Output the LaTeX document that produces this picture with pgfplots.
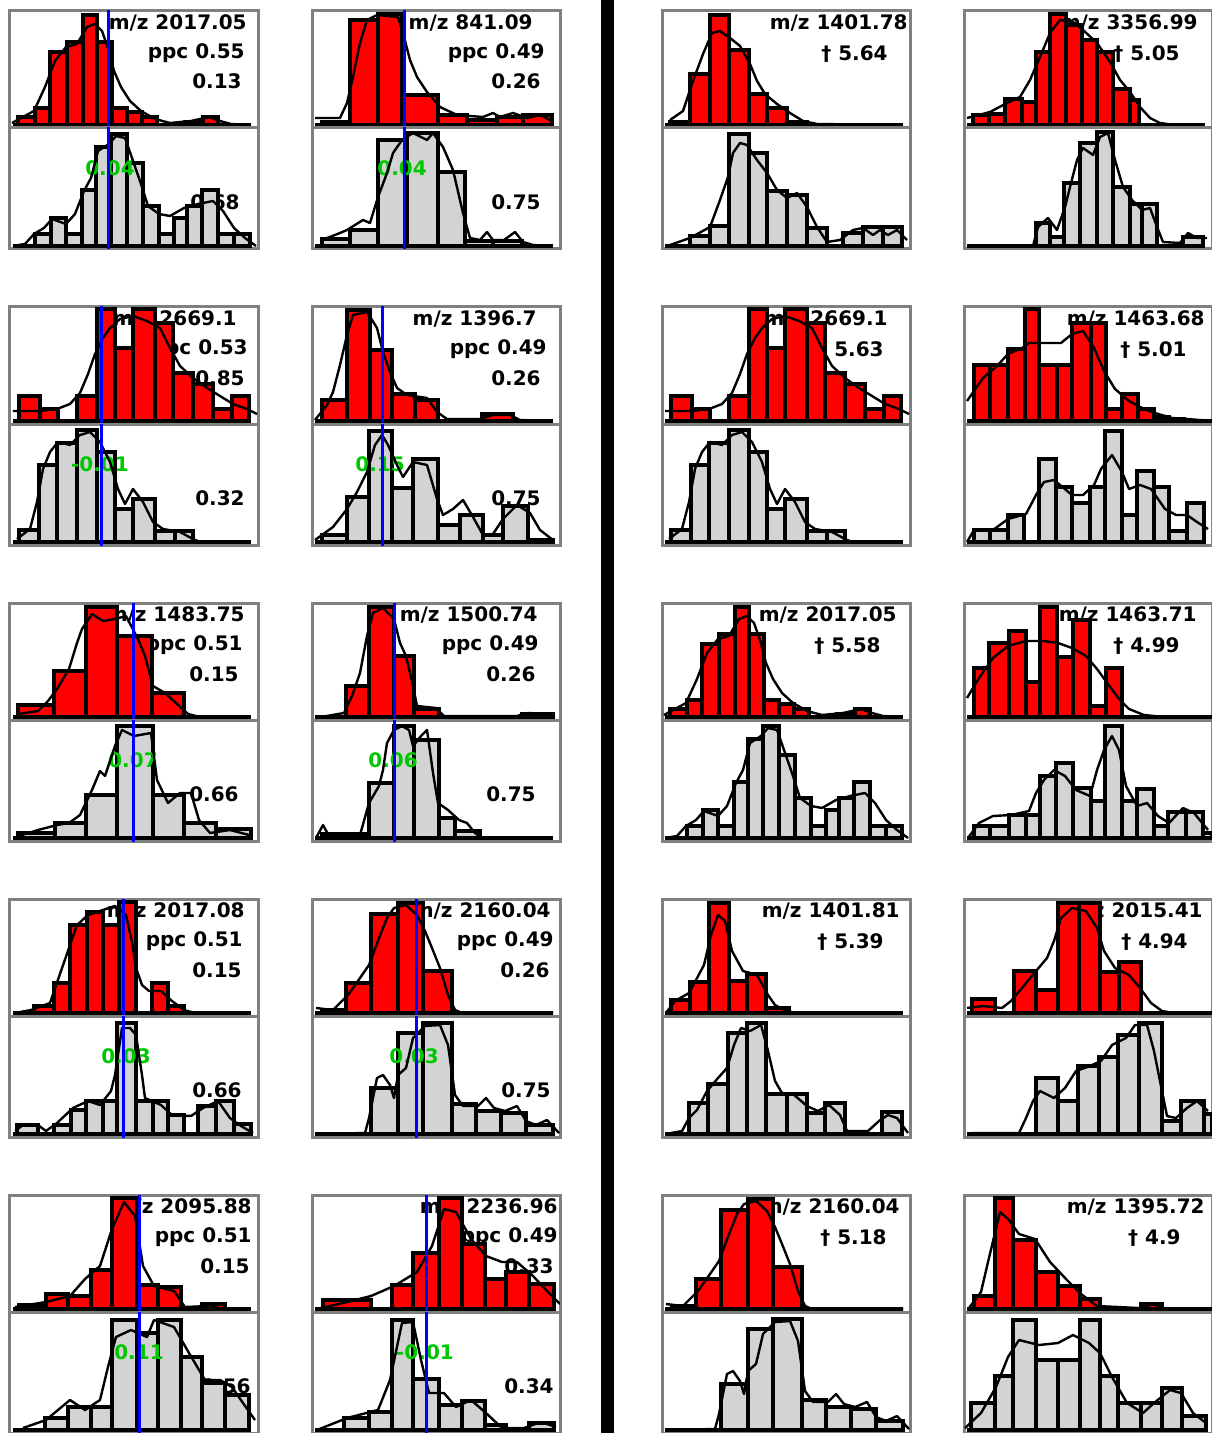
\documentclass[border=0pt]{standalone}
\usepackage{fontspec}
\setmainfont{DejaVu Sans}
\usepackage{pgfplots}
\pgfplotsset{compat=1.18}
\definecolor{fr}{RGB}{128,128,128}
\definecolor{rd}{RGB}{255,0,0}
\definecolor{gy}{RGB}{211,211,211}
\definecolor{bl}{RGB}{0,0,255}
\definecolor{gr}{RGB}{0,200,0}
\newcommand\lab{\bfseries\fontsize{10}{12}\selectfont}
\pgfplotsset{
 sub/.style={scale only axis, width=124pt, xmin=0, xmax=248, ticks=none, anchor=north west,
   axis line style={fr, line width=1.5pt}},
 tp/.style={sub, height=58.5pt, ymin=-3, ymax=114},
 bt/.style={sub, height=60.5pt, ymin=-3, ymax=118},
}
\newcommand\TT[3]{\begin{axis}[tp, at={(#1*0.5pt,-#2*0.5pt)}]#3\end{axis}}
\newcommand\BB[3]{\begin{axis}[bt, at={(#1*0.5pt,-#2*0.5pt-58.5pt)}]#3\end{axis}}
\newcommand\bars[2]{\addplot[ybar interval, fill=#1, draw=black, line width=1.6pt] coordinates {#2};}
\newcommand\crv[1]{\addplot[black, line width=1.2pt, line join=round] coordinates {#1};}
\newcommand\base{\addplot[black, line width=1.6pt] coordinates {(3,0) (241,0)};}
\newcommand\blue[1]{\addplot[bl, line width=1.5pt] coordinates {(#1,-10) (#1,130)};}
\newcommand\rtxt[3]{\addplot[draw=none] coordinates {(0,#2) (#1,#2)} node[pos=1, anchor=base east, inner sep=0pt, font=\lab] {#3};}
\newcommand\gtxt[3]{\addplot[draw=none] coordinates {(0,#2) (#1,#2)} node[pos=1, anchor=base, inner sep=0pt, font=\lab, text=gr] {#3};}
\begin{document}
\begin{tikzpicture}
% ---------------- Row 1 ----------------
% R1C1
\TT{10}{11}{\rtxt{237}{95.5}{m/z 2017.05}\rtxt{235}{66.5}{ppc 0.55}\rtxt{232}{36}{0.13}
\bars{rd}{(8,8) (25,17) (40,73) (57,83) (73,110) (87,83) (102,17) (117,13) (132,8) (147,0) (175,3) (193,8) (208,0) (240,0)}
\crv{(2,2) (24,14) (35,38) (45,64) (56,78) (67,81) (77,98) (85,101) (92,94) (99,74) (104,54) (111,38) (120,24) (131,14) (145,6) (160,2) (181,4) (199,8) (210,4) (221,1) (240,0)}
\base\blue{98}}
\BB{10}{11}{\rtxt{230}{36.5}{0.68}
\bars{gy}{(25,12) (41,28) (56,12) (72,56) (86,99) (101,112) (117,83) (133,40) (149,12) (164,28) (177,40) (192,56) (208,12) (224,12) (240,0)}
\gtxt{100}{70.5}{0.04}
\crv{(3,0) (15,2) (24,12) (34,18) (42,27) (56,22) (65,32) (74,55) (81,68) (88,95) (99,102) (106,110) (115,108) (122,88) (131,62) (138,40) (149,32) (160,30) (174,38) (188,42) (203,45) (213,35) (224,18) (235,8) (246,0)}
\base\blue{98}}
% R1C2
\TT{312}{11}{\rtxt{221}{95.5}{m/z 841.09}\rtxt{233}{66.5}{ppc 0.49}\rtxt{229}{36}{0.26}
\bars{rd}{(10,3) (38,105) (66,111) (90,30) (126,10) (155,5) (185,8) (211,10) (240,0)}
\crv{(3,7) (28,7) (35,22) (41,48) (48,82) (55,105) (65,110) (86,108) (91,92) (98,65) (105,48) (115,33) (128,18) (145,10) (171,8) (181,12) (188,8) (201,12) (215,7) (228,10) (238,5)}
\base\blue{92}}
\BB{312}{11}{\rtxt{229}{36.5}{0.75}
\bars{gy}{(10,7) (38,16) (66,106) (95,113) (126,74) (153,5) (181,5) (210,0) (240,0)}
\gtxt{90}{70.5}{0.04}
\crv{(10,6) (28,13) (35,16) (51,26) (58,23) (66,49) (75,73) (81,93) (90,106) (101,113) (115,106) (121,113) (131,99) (141,76) (151,33) (158,8) (168,6) (175,14) (181,6) (192,6) (203,14) (211,4) (221,1) (240,0)}
\base\blue{92}}
% R1C3
\TT{662}{11}{\rtxt{246}{95.5}{m/z 1401.78}\rtxt{226}{64.5}{† 5.64}
\bars{rd}{(8,3) (28,51) (48,110) (67,75) (87,31) (105,17) (125,3) (145,0) (240,0)}
\crv{(8,5) (21,14) (31,44) (41,71) (50,92) (58,94) (68,87) (78,79) (88,61) (95,44) (103,31) (115,21) (128,12) (141,4) (155,1) (240,0)}
\base}
\BB{662}{11}{
\bars{gy}{(28,10) (48,20) (67,112) (87,93) (105,55) (125,51) (145,18) (165,0) (181,13) (201,19) (221,19) (240,0)}
\crv{(8,1) (28,8) (48,19) (58,46) (66,69) (71,93) (78,103) (85,101) (95,86) (105,73) (115,56) (125,48) (135,53) (145,39) (155,19) (165,4) (178,6) (191,16) (201,18) (211,11) (218,16) (226,11) (235,16) (245,6)}
\base}
% R1C4
\TT{964}{11}{\rtxt{234}{95.5}{m/z 3356.99}\rtxt{216}{64.5}{† 5.05}
\bars{rd}{(9,10) (25,11) (41,26) (58,23) (72,73) (86,111) (102,100) (118,85) (133,73) (149,36) (166,25) (175,0) (240,0)}
\crv{(3,7) (26,13) (43,22) (56,28) (66,45) (76,68) (86,92) (96,105) (109,103) (119,95) (133,82) (146,63) (156,45) (166,33) (176,18) (186,7) (196,2) (210,0) (240,0)}
\base}
\BB{964}{11}{
\bars{gy}{(72,23) (86,9) (100,63) (116,103) (133,114) (149,59) (166,42) (178,42) (193,0) (219,9) (239,0)}
\crv{(3,0) (69,0) (74,19) (84,28) (93,16) (101,39) (106,59) (113,86) (119,98) (129,91) (136,109) (144,113) (151,86) (159,59) (168,46) (178,36) (186,38) (193,19) (199,4) (216,3) (224,13) (233,8) (243,8)}
\base}
% ---------------- Row 2 ----------------
% R2C1
\TT{10}{307}{\rtxt{227}{95.5}{m/z 2669.1}\rtxt{238}{66.5}{ppc 0.53}\rtxt{235}{36}{0.85}
\bars{rd}{(9,25) (30,12) (48,0) (67,25) (87,112) (105,73) (123,112) (145,98) (163,48) (183,37) (203,12) (222,25) (239,0)}
\crv{(3,10) (30,10) (47,12) (60,17) (70,28) (78,47) (85,67) (93,83) (100,93) (110,102) (123,105) (137,100) (150,93) (160,73) (170,55) (183,43) (197,33) (210,25) (223,17) (237,12) (247,7)}
\base\blue{91}}
\BB{10}{307}{\rtxt{235}{36.5}{0.32}
\bars{gy}{(9,12) (29,77) (47,99) (67,112) (87,90) (105,33) (123,43) (145,11) (165,11) (183,0) (240,0)}
\gtxt{90}{70.5}{-0.01}
\crv{(7,3) (20,13) (27,40) (33,73) (40,90) (48,100) (60,97) (70,107) (80,110) (90,100) (100,80) (108,53) (115,38) (123,53) (133,40) (143,20) (153,13) (170,10) (183,3) (190,0) (240,0)}
\base\blue{91}}
% R2C2
\TT{312}{307}{\rtxt{225}{95.5}{m/z 1396.7}\rtxt{235}{66.5}{ppc 0.49}\rtxt{229}{36}{0.26}
\bars{rd}{(10,21) (35,111) (58,71) (80,27) (103,21) (126,0) (170,7) (201,0) (240,0)}
\crv{(3,1) (15,16) (21,29) (28,56) (35,86) (41,106) (55,109) (65,93) (71,69) (78,49) (85,33) (95,26) (115,23) (125,9) (135,2) (168,2) (181,6) (198,6) (208,1) (240,0)}
\base\blue{70}}
\BB{312}{307}{\rtxt{229}{36.5}{0.75}
\bars{gy}{(10,7) (35,45) (57,111) (80,54) (101,83) (126,17) (148,27) (171,7) (191,36) (216,2) (241,0)}
\gtxt{68}{70.5}{0.15}
\crv{(3,2) (21,15) (35,33) (45,50) (55,70) (63,97) (70,107) (76,97) (85,77) (91,65) (101,80) (115,77) (125,43) (131,27) (141,33) (151,42) (161,25) (171,7) (181,8) (191,23) (205,37) (218,29) (228,12) (241,2)}
\base\blue{70}}
% R2C3
\TT{662}{307}{\rtxt{226}{95.5}{m/z 2669.1}\rtxt{222}{64.5}{† 5.63}
\bars{rd}{(9,25) (30,12) (48,0) (67,25) (87,112) (105,73) (123,112) (145,98) (163,48) (183,37) (203,12) (222,25) (239,0)}
\crv{(3,10) (30,10) (47,12) (60,17) (70,28) (78,47) (85,67) (93,83) (100,93) (110,102) (123,105) (137,100) (150,93) (160,73) (170,55) (183,43) (197,33) (210,25) (223,17) (237,12) (247,7)}
\base}
\BB{662}{307}{
\bars{gy}{(9,12) (29,77) (47,99) (67,112) (87,90) (105,33) (123,43) (145,11) (165,11) (183,0) (240,0)}
\crv{(7,3) (20,13) (27,40) (33,73) (40,90) (48,100) (60,97) (70,107) (80,110) (90,100) (100,80) (108,53) (115,38) (123,53) (133,40) (143,20) (153,13) (170,10) (183,3) (190,0) (240,0)}
\base}
% R2C4
\TT{964}{307}{\rtxt{241}{95.5}{m/z 1463.68}\rtxt{223}{64.5}{† 5.01}
\bars{rd}{(10,56) (26,56) (44,72) (61,112) (75,56) (93,56) (108,98) (127,98) (142,12) (158,27) (174,12) (190,4) (205,2) (220,0) (248,0)}
\crv{(3,20) (19,43) (33,55) (44,67) (58,73) (65,78) (80,78) (97,78) (108,87) (119,90) (130,73) (140,50) (151,32) (165,20) (180,12) (194,7) (208,3) (223,2) (248,0)}
\base}
\BB{964}{307}{
\bars{gy}{(10,12) (26,12) (44,27) (60,0) (75,83) (92,55) (108,39) (126,55) (141,111) (158,27) (173,71) (190,55) (205,11) (223,39) (240,0)}
\crv{(3,0) (10,12) (29,12) (44,23) (62,28) (72,47) (80,60) (90,62) (108,47) (119,47) (130,57) (137,73) (148,87) (158,70) (165,53) (176,57) (187,53) (201,33) (212,27) (223,27) (233,20) (244,13)}
\base}
% ---------------- Row 3 ----------------
% R3C1
\TT{10}{603}{\rtxt{235}{95.5}{m/z 1483.75}\rtxt{233}{66.5}{ppc 0.51}\rtxt{229}{36}{0.15}
\bars{rd}{(8,12) (44,46) (76,110) (107,81) (142,24) (174,0) (240,0)}
\crv{(9,3) (28,6) (38,16) (47,28) (59,48) (67,74) (72,88) (82,103) (93,96) (105,98) (116,101) (128,78) (135,61) (143,31) (155,24) (166,14) (178,3) (190,0) (240,0)}
\base\blue{123}}
\BB{10}{603}{\rtxt{229}{36.5}{0.66}
\bars{gy}{(8,5) (45,15) (76,43) (107,112) (143,43) (174,15) (206,9) (241,0)}
\gtxt{123}{70.5}{0.07}
\crv{(9,2) (28,8) (47,13) (59,15) (70,23) (82,48) (90,67) (95,62) (105,92) (112,108) (124,102) (141,105) (147,58) (158,35) (170,45) (181,45) (189,18) (200,5) (220,8) (239,3)}
\base\blue{123}}
% R3C2
\TT{312}{603}{\rtxt{226}{95.5}{m/z 1500.74}\rtxt{227}{66.5}{ppc 0.49}\rtxt{224}{36}{0.26}
\bars{rd}{(34,31) (57,110) (82,61) (102,8) (127,0) (210,3) (241,0)}
\crv{(9,0) (32,4) (40,21) (48,44) (55,81) (61,104) (71,109) (82,98) (88,74) (94,61) (101,31) (105,11) (124,9) (132,1) (205,1) (216,4) (239,3)}
\base\blue{82}}
\BB{312}{603}{\rtxt{224}{36.5}{0.75}
\bars{gy}{(10,4) (57,55) (82,112) (102,98) (127,20) (143,7) (168,0) (240,0)}
\gtxt{81}{70.5}{0.06}
\crv{(4,0) (11,13) (17,2) (48,3) (57,35) (67,52) (71,68) (75,95) (82,108) (90,112) (97,108) (101,92) (109,102) (115,108) (121,65) (126,35) (136,28) (147,18) (155,15) (163,5) (170,0) (240,0)}
\base\blue{82}}
% R3C3
\TT{662}{603}{\rtxt{235}{95.5}{m/z 2017.05}\rtxt{219}{64.5}{† 5.58}
\bars{rd}{(8,8) (25,17) (40,73) (57,83) (73,110) (87,83) (102,17) (117,13) (132,8) (147,0) (175,3) (193,8) (208,0) (240,0)}
\crv{(2,2) (24,14) (35,38) (45,64) (56,78) (67,81) (77,98) (85,101) (92,94) (99,74) (104,54) (111,38) (120,24) (131,14) (145,6) (160,2) (181,4) (199,8) (210,4) (221,1) (240,0)}
\base}
\BB{662}{603}{
\bars{gy}{(25,12) (41,28) (56,12) (72,56) (86,99) (101,112) (117,83) (133,40) (149,12) (164,28) (177,40) (192,56) (208,12) (224,12) (240,0)}
\crv{(3,0) (15,2) (24,12) (34,18) (42,27) (56,22) (65,32) (74,55) (81,68) (88,95) (99,102) (106,110) (115,108) (122,88) (131,62) (138,40) (149,32) (160,30) (174,38) (188,42) (203,45) (213,35) (224,18) (235,8) (246,0)}
\base}
% R3C4
\TT{964}{603}{\rtxt{233}{95.5}{m/z 1463.71}\rtxt{216}{64.5}{† 4.99}
\bars{rd}{(10,49) (25,74) (45,86) (62,35) (76,110) (93,60) (109,97) (126,11) (142,49) (158,0) (248,0)}
\crv{(3,19) (15,39) (29,59) (44,71) (62,76) (80,76) (94,74) (108,69) (122,61) (133,48) (144,33) (155,18) (165,8) (180,2) (200,0) (248,0)}
\base}
\BB{964}{603}{
\bars{gy}{(10,12) (26,12) (45,23) (62,23) (76,62) (92,75) (109,50) (127,37) (141,112) (158,37) (173,49) (190,12) (204,26) (222,26) (239,5) (248,0)}
\crv{(4,0) (15,15) (29,22) (47,23) (65,27) (72,45) (80,58) (90,68) (101,62) (112,48) (126,42) (133,68) (140,88) (148,102) (155,88) (162,52) (173,32) (183,35) (194,22) (205,15) (219,30) (230,25) (244,8)}
\base}
% ---------------- Row 4 ----------------
% R4C1
\TT{10}{899}{\rtxt{235}{95.5}{m/z 2017.08}\rtxt{233}{66.5}{ppc 0.51}\rtxt{232}{36}{0.15}
\bars{rd}{(11,0) (24,7) (44,30) (60,88) (77,101) (93,88) (109,111) (126,0) (142,30) (158,7) (174,0) (240,0)}
\crv{(5,0) (21,3) (40,10) (51,42) (59,65) (67,88) (78,98) (93,103) (105,107) (116,98) (122,71) (126,45) (132,28) (139,22) (151,22) (162,12) (174,3) (185,0) (240,0)}
\base\blue{113}}
\BB{10}{899}{\rtxt{232}{36.5}{0.66}
\bars{gy}{(7,9) (28,0) (44,9) (61,24) (76,33) (93,33) (107,111) (126,33) (143,33) (158,19) (174,0) (188,28) (206,33) (224,10) (241,0)}
\gtxt{116}{70.5}{0.03}
\crv{(5,3) (13,9) (28,9) (36,3) (47,11) (63,26) (78,33) (90,29) (101,43) (105,59) (112,106) (120,106) (126,99) (132,59) (135,36) (151,29) (162,19) (181,18) (193,26) (208,33) (220,16) (231,8) (243,1)}
\base\blue{113}}
% R4C2
\TT{312}{899}{\rtxt{239}{95.5}{m/z 2160.04}\rtxt{242}{66.5}{ppc 0.49}\rtxt{238}{36}{0.26}
\bars{rd}{(10,3) (34,30) (59,99) (86,110) (111,42) (140,0) (241,0)}
\crv{(4,5) (21,3) (36,18) (48,35) (57,48) (67,75) (75,95) (82,105) (94,108) (105,98) (113,82) (120,65) (128,45) (136,18) (143,3) (150,0) (241,0)}
\base\blue{104}}
\BB{312}{899}{\rtxt{239}{36.5}{0.75}
\bars{gy}{(59,46) (86,101) (111,111) (140,30) (164,23) (189,21) (214,9) (241,0)}
\gtxt{102}{70.5}{0.03}
\crv{(3,0) (53,1) (57,16) (65,56) (71,59) (78,49) (82,36) (86,59) (94,66) (101,96) (113,108) (128,109) (136,89) (143,39) (151,28) (166,28) (174,36) (182,26) (193,23) (205,28) (214,13) (224,9) (235,14) (247,1)}
\base\blue{104}}
% R4C3
\TT{662}{899}{\rtxt{238}{95.5}{m/z 1401.81}\rtxt{222}{64.5}{† 5.39}
\bars{rd}{(9,13) (28,31) (47,110) (67,32) (85,39) (104,5) (127,0) (240,0)}
\crv{(4,0) (13,12) (27,20) (42,48) (49,78) (56,98) (63,92) (70,62) (81,42) (95,38) (106,18) (113,8) (124,2) (135,0) (240,0)}
\base}
\BB{662}{899}{
\bars{gy}{(27,31) (46,50) (66,101) (85,111) (104,40) (125,40) (145,21) (163,31) (183,0) (220,22) (240,0)}
\crv{(9,1) (20,3) (27,16) (35,24) (45,43) (56,56) (65,66) (72,89) (79,106) (88,103) (99,109) (106,83) (113,53) (120,41) (131,40) (145,28) (156,23) (167,29) (178,19) (185,3) (206,3) (217,13) (226,19) (235,16) (246,1)}
\base}
% R4C4
\TT{964}{899}{\rtxt{239}{95.5}{m/z 2015.41}\rtxt{224}{64.5}{† 4.94}
\bars{rd}{(8,14) (31,0) (50,42) (72,23) (94,110) (115,110) (136,41) (155,51) (177,0) (248,0)}
\crv{(3,5) (19,7) (38,5) (47,12) (58,25) (72,42) (83,55) (90,72) (97,95) (108,105) (122,102) (133,85) (140,62) (151,45) (165,38) (176,25) (187,10) (198,2) (210,0) (248,0)}
\base}
\BB{964}{899}{
\bars{gy}{(72,56) (94,33) (114,68) (135,77) (154,99) (175,111) (198,13) (217,33) (240,20) (248,0)}
\crv{(8,1) (55,1) (62,16) (69,33) (76,43) (90,36) (101,46) (112,63) (126,68) (137,73) (148,89) (162,96) (171,109) (183,109) (190,83) (198,43) (203,18) (212,16) (223,26) (233,33) (244,23)}
\base}
% ---------------- Row 5 ----------------
% R5C1
\TT{10}{1195}{\rtxt{242}{95.5}{m/z 2095.88}\rtxt{242}{66.5}{ppc 0.51}\rtxt{240}{36}{0.15}
\bars{rd}{(9,4) (36,15) (58,13) (81,39) (102,111) (127,24) (148,22) (171,0) (192,5) (215,0) (240,0)}
\crv{(5,2) (36,7) (60,13) (75,30) (90,43) (102,80) (114,107) (125,93) (133,43) (144,23) (164,18) (175,2) (198,3) (215,0) (240,0)}
\base\blue{129}}
\BB{10}{1195}{\rtxt{241}{36.5}{0.56}
\bars{gy}{(35,12) (58,23) (81,23) (102,110) (127,97) (148,110) (171,73) (192,47) (215,35) (239,0)}
\gtxt{129}{70.5}{0.11}
\crv{(13,2) (36,10) (60,30) (75,20) (90,30) (98,63) (106,93) (121,100) (137,93) (144,110) (164,103) (179,77) (195,50) (210,50) (222,43) (233,27) (245,10)}
\base\blue{129}}
% R5C2
\TT{312}{1195}{\rtxt{246}{95.5}{m/z 2236.96}\rtxt{246}{66.5}{ppc 0.49}\rtxt{242}{36}{0.33}
\bars{rd}{(11,9) (59,0) (80,24) (101,56) (127,111) (150,65) (173,30) (194,37) (217,25) (242,0)}
\crv{(5,0) (35,7) (59,13) (82,23) (105,37) (120,63) (132,100) (144,97) (159,70) (174,53) (190,47) (205,47) (221,33) (236,17) (248,5)}
\base\blue{114}}
\BB{312}{1195}{\rtxt{242}{36.5}{0.34}
\bars{gy}{(32,12) (57,18) (80,110) (101,51) (127,25) (150,29) (173,5) (194,0) (217,7) (242,0)}
\gtxt{113}{70.5}{-0.01}
\crv{(5,0) (35,12) (66,20) (78,50) (90,107) (101,108) (109,70) (117,37) (132,37) (144,23) (159,30) (174,17) (190,2) (212,2) (229,8) (244,3)}
\base\blue{114}}
% R5C3
\TT{662}{1195}{\rtxt{238}{95.5}{m/z 2160.04}\rtxt{225}{64.5}{† 5.18}
\bars{rd}{(10,3) (34,30) (59,99) (86,110) (111,42) (140,0) (241,0)}
\crv{(4,5) (21,3) (36,18) (48,35) (57,48) (67,75) (75,95) (82,105) (94,108) (105,98) (113,82) (120,65) (128,45) (136,18) (143,3) (150,0) (241,0)}
\base}
\BB{662}{1195}{
\bars{gy}{(59,46) (86,101) (111,111) (140,30) (164,23) (189,21) (214,9) (241,0)}
\crv{(3,0) (53,1) (57,16) (65,56) (71,59) (78,49) (82,36) (86,59) (94,66) (101,96) (113,108) (128,109) (136,89) (143,39) (151,28) (166,28) (174,36) (182,26) (193,23) (205,28) (214,13) (224,9) (235,14) (247,1)}
\base}
% R5C4
\TT{964}{1195}{\rtxt{241}{95.5}{m/z 1395.72}\rtxt{217}{64.5}{† 4.9}
\bars{rd}{(10,13) (31,111) (49,69) (72,37) (94,23) (116,10) (136,0) (177,5) (198,0) (248,0)}
\crv{(5,1) (17,17) (24,47) (36,97) (44,90) (55,75) (71,70) (86,47) (102,30) (117,15) (133,3) (175,1) (190,5) (200,0) (248,0)}
\base}
\BB{964}{1195}{
\bars{gy}{(7,27) (31,54) (49,110) (72,70) (94,70) (116,110) (136,54) (154,27) (177,27) (198,42) (218,14) (242,0)}
\crv{(1,2) (17,17) (32,43) (44,73) (55,90) (75,85) (94,87) (109,95) (125,87) (136,77) (148,53) (163,27) (179,17) (190,27) (206,40) (217,37) (229,17) (242,7)}
\base}
% divider
\fill[black] (300.5pt,0pt) rectangle (307pt,-716.5pt);
\pgfresetboundingbox
\path[use as bounding box] (0pt,0pt) rectangle (605.5pt,-716.5pt);
\end{tikzpicture}
\end{document}
